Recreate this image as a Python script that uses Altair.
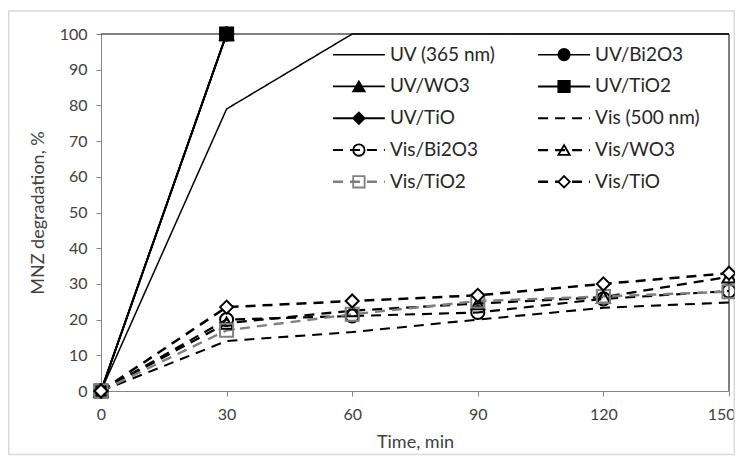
import altair as alt
import pandas as pd

# ---- data ----
times = [0, 30, 60, 90, 120, 150]
uv_times = [0, 30]
series_names = ["UV (365 nm)", "UV/Bi2O3", "UV/WO3", "UV/TiO2", "UV/TiO",
                "Vis (500 nm)", "Vis/Bi2O3", "Vis/WO3", "Vis/TiO2", "Vis/TiO"]
uv_365 = [0, 79, 100, 100, 100, 100]
uv_bi2o3 = [0, 100]
uv_wo3 = [0, 100]
uv_tio2 = [0, 100]
uv_tio = [0, 100]
vis_500 = [0, 14, 16.5, 20, 23.3, 24.8]
vis_bi2o3 = [0, 20, 21, 22, 25.8, 28]
vis_wo3 = [0, 19, 22.5, 24.5, 26.3, 32]
vis_tio2 = [0, 17, 21.5, 25.2, 26.5, 27.8]
vis_tio = [0, 23.5, 25.2, 26.8, 30, 33]
y_ticks = [0, 10, 20, 30, 40, 50, 60, 70, 80, 90, 100]

values = [uv_365, uv_bi2o3, uv_wo3, uv_tio2, uv_tio,
          vis_500, vis_bi2o3, vis_wo3, vis_tio2, vis_tio]
xs = [times, uv_times, uv_times, uv_times, uv_times,
      times, times, times, times, times]
has_marker = [False, True, True, True, True, False, True, True, True, True]

# ---- styles ----
colors = ["black"] * 8 + ["#7f7f7f", "black"]
dashes = [[1, 0]] * 5 + [[10, 7]] * 5
widths = [1.5, 2.5, 2.5, 2.5, 2.5, 2.5, 2.5, 2.5, 2.5, 2.5]
shapes = ["circle", "circle", "triangle-up", "square", "diamond",
          "circle", "circle", "triangle-up", "square", "diamond"]
fills = ["black"] * 5 + ["black", "transparent", "transparent", "transparent", "white"]
sizes = [170, 170, 200, 190, 200, 170, 170, 200, 170, 190]
legend_sizes = [130, 130, 160, 140, 150, 130, 130, 160, 120, 130]

FONT = "Lato"
TEXT = "#404040"
GRID = "#868686"

rows = []
order = 0
for i, name in enumerate(series_names):
    for t, v in zip(xs[i], values[i]):
        rows.append({"series": name, "time": t, "value": v,
                     "marker": has_marker[i], "ord": order})
        order += 1
df = pd.DataFrame(rows)

# legend table (positions in data units of the plot)
col_left = [55.4, 104.4]
sym_len = 12.4
top_row = 94.2
row_step = 8.9
leg = []
for i, name in enumerate(series_names):
    c, r = i % 2, i // 2
    x0 = col_left[c]
    leg.append({"series": name, "x0": x0, "x1": x0 + sym_len,
                "xm": x0 + sym_len / 2, "xt": x0 + sym_len + 1.2,
                "y": top_row - r * row_step, "marker": has_marker[i]})
ldf = pd.DataFrame(leg)

xscale = alt.Scale(domain=[0, 150], nice=False)
yscale = alt.Scale(domain=[0, 100], nice=False)
color_s = alt.Scale(domain=series_names, range=colors)
dash_s = alt.Scale(domain=series_names, range=dashes)
width_s = alt.Scale(domain=series_names, range=widths)
shape_s = alt.Scale(domain=series_names, range=shapes)
fill_s = alt.Scale(domain=series_names, range=fills)
size_s = alt.Scale(domain=series_names, range=sizes)
lsize_s = alt.Scale(domain=series_names, range=legend_sizes)

xaxis = alt.Axis(values=times, title="Time, min", grid=False, labelOverlap=False,
                 labelAlign={"condition": {"test": "datum.value == 150", "value": "right"},
                             "value": "center"},
                 labelOffset={"condition": {"test": "datum.value == 150", "value": 6},
                              "value": 0})
yaxis = alt.Axis(values=y_ticks, title="MNZ degradation, %", grid=False,
                 labelOverlap=False)


def X(f):
    return alt.X(f, scale=xscale, axis=xaxis)


def Y(f):
    return alt.Y(f, scale=yscale, axis=yaxis)


lines = alt.Chart(df).mark_line(clip=False).encode(
    x=X("time:Q"), y=Y("value:Q"),
    color=alt.Color("series:N", scale=color_s, legend=None),
    strokeDash=alt.StrokeDash("series:N", scale=dash_s, legend=None),
    strokeWidth=alt.StrokeWidth("series:N", scale=width_s, legend=None),
)

border = alt.Chart(pd.DataFrame({"a": [0]})).mark_rect(
    fillOpacity=0, stroke="#d9d9d9", strokeWidth=1.5, clip=False
).encode(x=alt.value(-92.25), x2=alt.value(633.25), y=alt.value(-23), y2=alt.value(420.5))

frame_top = alt.Chart(pd.DataFrame({"a": [0]})).mark_rule(
    color="black", strokeWidth=1.2, clip=False
).encode(x=alt.datum(0, scale=xscale, axis=xaxis), x2=alt.datum(150),
         y=alt.datum(100, scale=yscale, axis=yaxis))
frame_right = alt.Chart(pd.DataFrame({"a": [0]})).mark_rule(
    color="black", strokeWidth=1, clip=False
).encode(x=alt.datum(150, scale=xscale, axis=xaxis),
         y=alt.datum(0, scale=yscale, axis=yaxis), y2=alt.datum(100))

points = alt.Chart(df).transform_filter("datum.marker").mark_point(
    filled=True, strokeWidth=2, opacity=1, clip=False
).encode(
    x=X("time:Q"), y=Y("value:Q"),
    shape=alt.Shape("series:N", scale=shape_s, legend=None),
    fill=alt.Fill("series:N", scale=fill_s, legend=None),
    stroke=alt.Stroke("series:N", scale=color_s, legend=None),
    size=alt.Size("series:N", scale=size_s, legend=None),
    order=alt.Order("ord:Q"),
)

leg_lines = alt.Chart(ldf).mark_rule().encode(
    x=X("x0:Q"), x2="x1:Q", y=Y("y:Q"),
    color=alt.Color("series:N", scale=color_s, legend=None),
    strokeDash=alt.StrokeDash("series:N", scale=dash_s, legend=None),
    strokeWidth=alt.StrokeWidth("series:N", scale=width_s, legend=None),
)
leg_points = alt.Chart(ldf).transform_filter("datum.marker").mark_point(
    filled=True, strokeWidth=1.8, opacity=1
).encode(
    x=X("xm:Q"), y=Y("y:Q"),
    shape=alt.Shape("series:N", scale=shape_s, legend=None),
    fill=alt.Fill("series:N", scale=fill_s, legend=None),
    stroke=alt.Stroke("series:N", scale=color_s, legend=None),
    size=alt.Size("series:N", scale=lsize_s, legend=None),
)
leg_text = alt.Chart(ldf).mark_text(
    align="left", baseline="middle", font=FONT, fontSize=19, color="#262626"
).encode(x=X("xt:Q"), y=Y("y:Q"), text="series:N")

chart = alt.layer(
    lines, border, frame_top, frame_right, points, leg_lines, leg_points, leg_text
).resolve_scale(size="independent").properties(
    width=628, height=357,
    autosize=alt.AutoSizeParams(type="none"),
    padding={"left": 93, "top": 26, "right": 6, "bottom": 65},
).configure_view(stroke=None).configure_axis(
    domainColor=GRID, domainWidth=1, tickColor=GRID, tickSize=5,
    labelFont=FONT, labelFontSize=16, labelColor=TEXT,
    titleFont=FONT, titleFontSize=18, titleFontWeight="normal", titleColor=TEXT,
).configure_axisX(labelPadding=10, titlePadding=11).configure_axisY(
    labelPadding=9, titlePadding=12
)

chart.save("out.html", embed_options={"renderer": "svg", "actions": False})
